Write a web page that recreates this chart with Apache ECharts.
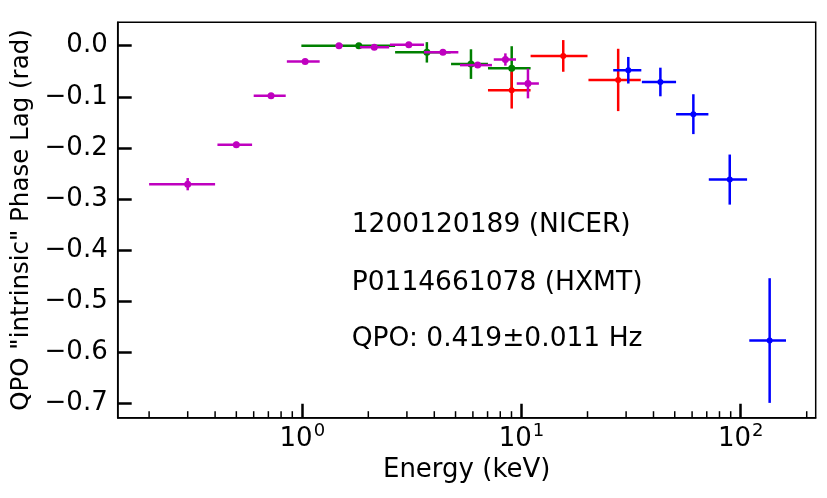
<!DOCTYPE html>
<html>
<head>
<meta charset="utf-8">
<script src="https://cdn.jsdelivr.net/npm/echarts@6/dist/echarts.min.js"></script>
<style>
  html, body { margin: 0; padding: 0; background: #fff; }
  #chart { width: 827px; height: 498px; }
</style>
</head>
<body>
<div id="chart"></div>
<script>
// NICER (magenta)
var nicerE   = [0.30, 0.50, 0.72, 1.03, 1.47, 2.13, 3.06, 4.38, 6.31, 8.44, 10.7];
var nicerLo  = [0.20, 0.41, 0.60, 0.85, 1.42, 1.83, 2.51, 3.59, 5.24, 7.47, 9.51];
var nicerHi  = [0.40, 0.59, 0.84, 1.20, 1.53, 2.49, 3.59, 5.15, 7.33, 9.44, 12.0];
var nicerLag = [-0.271, -0.194, -0.098, -0.031, 0.000, -0.003, 0.002, -0.013, -0.038, -0.027, -0.074];
var nicerErr = [0.012, 0.006, 0.004, 0.004, 0.004, 0.004, 0.004, 0.004, 0.004, 0.012, 0.029];

// HXMT LE (green)
var leE   = [1.81, 3.70, 5.88, 9.02];
var leLo  = [0.99, 2.65, 4.77, 7.03];
var leHi  = [2.65, 4.75, 7.03, 11.0];
var leLag = [0.000, -0.013, -0.036, -0.044];
var leErr = [0.004, 0.020, 0.029, 0.043];

// HXMT ME (red)
var meE   = [9.02, 15.5, 27.6];
var meLo  = [7.03, 11.0, 20.2];
var meHi  = [11.0, 20.0, 35.0];
var meLag = [-0.087, -0.020, -0.067];
var meErr = [0.036, 0.031, 0.061];

// HXMT HE (blue)
var heE   = [30.7, 43.0, 60.8, 89.1, 135.5];
var heLo  = [26.2, 35.4, 50.7, 71.5, 109.4];
var heHi  = [35.2, 50.7, 71.2, 106.9, 160.9];
var heLag = [-0.048, -0.071, -0.134, -0.262, -0.577];
var heErr = [0.026, 0.028, 0.039, 0.049, 0.122];

var minorTicks = [0.2, 0.3, 0.4, 0.5, 0.6, 0.7, 0.8, 0.9,
                  2, 3, 4, 5, 6, 7, 8, 9,
                  20, 30, 40, 50, 60, 70, 80, 90, 200];

var notes = ['1200120189 (NICER)', 'P0114661078 (HXMT)', 'QPO: 0.419\u00b10.011 Hz'];

var X_MIN = 0.1438, X_MAX = 219.8;
var Y_MIN = -0.728, Y_MAX = 0.0458;
var FONT = '"DejaVu Sans", sans-serif';

function rows(e, lag, lo, hi, err) {
    var out = [];
    for (var i = 0; i < e.length; i++) {
        out.push([e[i], lag[i], lo[i], hi[i], err[i]]);
    }
    return out;
}

// cross error bars + dot
function errorBars(color, r) {
    return function (params, api) {
        var c = api.coord([api.value(0), api.value(1)]);
        var xl = api.coord([api.value(2), api.value(1)])[0];
        var xh = api.coord([api.value(3), api.value(1)])[0];
        var yl = api.coord([api.value(0), api.value(1) - api.value(4)])[1];
        var yh = api.coord([api.value(0), api.value(1) + api.value(4)])[1];
        var st = {stroke: color, lineWidth: 2.5};
        return {
            type: 'group',
            children: [
                {type: 'line', shape: {x1: xl, y1: c[1], x2: xh, y2: c[1]}, style: st},
                {type: 'line', shape: {x1: c[0], y1: yl, x2: c[0], y2: yh}, style: st},
                {type: 'circle', shape: {cx: c[0], cy: c[1], r: r}, style: {fill: color}}
            ]
        };
    };
}

function errSeries(name, data, color, r) {
    return {
        name: name,
        type: 'custom',
        renderItem: errorBars(color, r),
        encode: {x: [0, 2, 3], y: 1},
        data: data,
        silent: true,
        animation: false
    };
}

var chart = echarts.init(document.getElementById('chart'));

var option = {
    animation: false,
    backgroundColor: '#fff',
    grid: {
        left: 117.7, right: 11.3, top: 22.3, bottom: 80.3,
        outerBoundsMode: 'none',
        containLabel: false,
        show: true, borderColor: '#000', borderWidth: 1.5
    },
    xAxis: {
        type: 'log',
        logBase: 10,
        min: X_MIN,
        max: X_MAX,
        name: 'Energy (keV)',
        nameLocation: 'middle',
        nameGap: 37,
        nameTextStyle: {fontSize: 26, fontFamily: FONT, color: '#000'},
        axisLine: {show: true, onZero: false, lineStyle: {color: '#000', width: 1.5}},
        axisTick: {show: true, inside: true, length: 14, lineStyle: {color: '#000', width: 2.5}},
        splitLine: {show: false},
        axisLabel: {
            margin: 5,
            showMinLabel: false,
            showMaxLabel: false,
            color: '#000',
            formatter: function (v) {
                var n = Math.log10(v);
                var r = Math.round(n);
                if (Math.abs(n - r) > 1e-6) return '';
                return '{b|10}{s|' + r + '}';
            },
            rich: {
                b: {fontSize: 26, fontFamily: FONT, color: '#000', verticalAlign: 'bottom'},
                s: {fontSize: 18, fontFamily: FONT, color: '#000', verticalAlign: 'bottom', padding: [0, 0, 12, 1]}
            }
        }
    },
    yAxis: {
        type: 'value',
        min: Y_MIN,
        max: Y_MAX,
        splitNumber: 8,
        name: 'QPO "intrinsic" Phase Lag (rad)',
        nameLocation: 'middle',
        nameGap: 80,
        nameTextStyle: {fontSize: 24.5, fontFamily: FONT, color: '#000'},
        axisLine: {show: true, onZero: false, lineStyle: {color: '#000', width: 1.5}},
        axisTick: {show: true, inside: true, length: 14, lineStyle: {color: '#000', width: 2.5}},
        splitLine: {show: false},
        axisLabel: {
            margin: 10,
            showMinLabel: false,
            showMaxLabel: false,
            fontSize: 26,
            fontFamily: FONT,
            color: '#000',
            formatter: function (v) {
                var r = Math.round(v * 10) / 10;
                if (Math.abs(v - r) > 1e-6) return '';
                return (r < 0 ? '\u2212' : '') + Math.abs(r).toFixed(1);
            }
        }
    },
    graphic: [
        {type: 'text', x: 351.7, y: 225, style: {text: notes[0], fontSize: 26.5, fontFamily: FONT, fill: '#000', verticalAlign: 'middle'}},
        {type: 'text', x: 351.7, y: 283.3, style: {text: notes[1], fontSize: 26.5, fontFamily: FONT, fill: '#000', verticalAlign: 'middle'}},
        {type: 'text', x: 351.7, y: 339.3, style: {text: notes[2], fontSize: 26.5, fontFamily: FONT, fill: '#000', verticalAlign: 'middle'}}
    ],
    series: [
        {
            type: 'custom',
            silent: true,
            data: minorTicks.map(function (v) { return [v, Y_MIN]; }),
            encode: {x: 0, y: 1},
            renderItem: function (params, api) {
                var p = api.coord([api.value(0), Y_MIN]);
                return {
                    type: 'line',
                    shape: {x1: p[0], y1: p[1], x2: p[0], y2: p[1] - 6.5},
                    style: {stroke: '#000', lineWidth: 1.5}
                };
            }
        },
        errSeries('LE', rows(leE, leLag, leLo, leHi, leErr), '#008000', 3.5),
        errSeries('ME', rows(meE, meLag, meLo, meHi, meErr), '#ff0000', 3),
        errSeries('HE', rows(heE, heLag, heLo, heHi, heErr), '#0000ff', 3),
        errSeries('NICER', rows(nicerE, nicerLag, nicerLo, nicerHi, nicerErr), '#bf00bf', 3.5)
    ]
};

chart.setOption(option);
</script>
</body>
</html>
